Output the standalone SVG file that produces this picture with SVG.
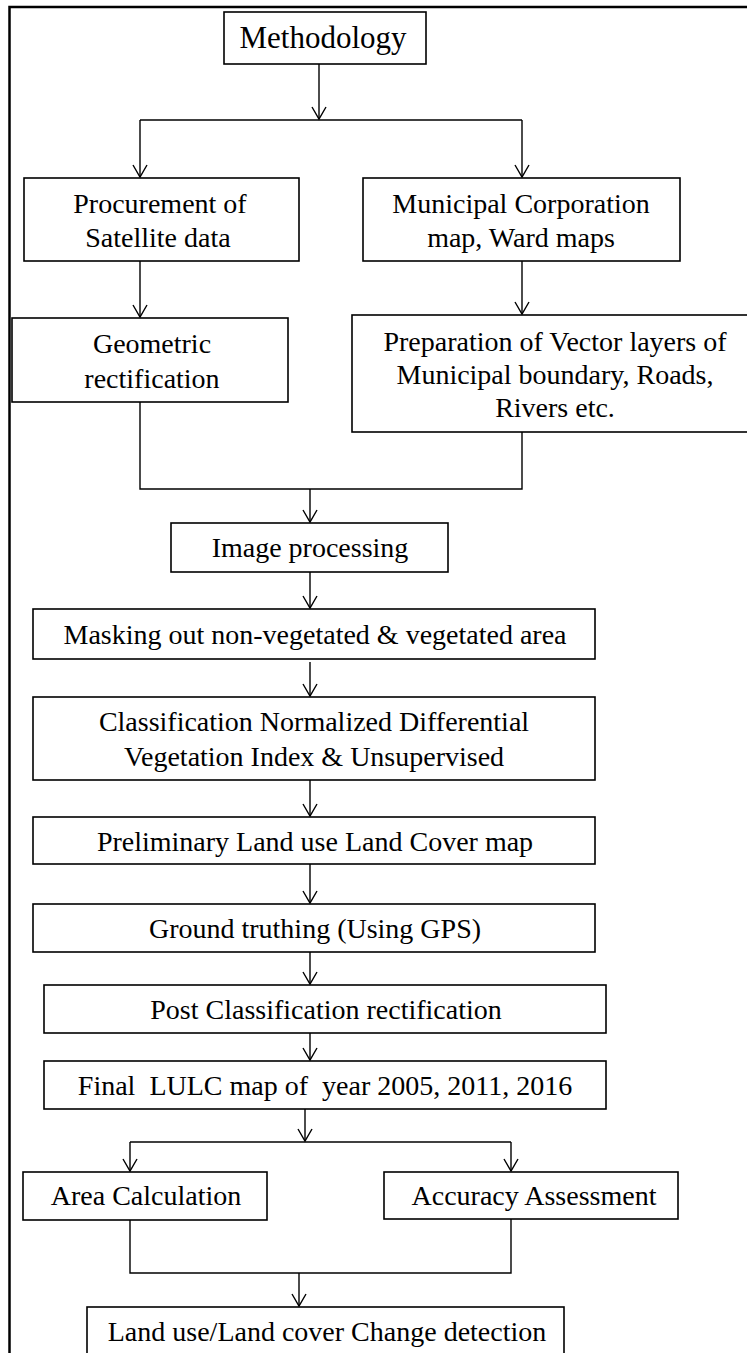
<svg xmlns="http://www.w3.org/2000/svg" width="747" height="1353" viewBox="0 0 747 1353">
<style>
.box{fill:#fff;stroke:#000;stroke-width:1.6}
.t{font-family:"Liberation Serif","Times New Roman",serif;font-size:28px;fill:#000;text-anchor:middle}
.c{fill:none;stroke:#000;stroke-width:1.4}
.a{marker-end:url(#ah)}
</style>
<defs>
<marker id="ah" markerUnits="userSpaceOnUse" markerWidth="16" markerHeight="16" viewBox="0 0 16 16" refX="14" refY="8" orient="auto">
<path d="M2,1 L14,8 L2,15" fill="none" stroke="#000" stroke-width="1.4"/>
</marker>
</defs>
<rect x="0" y="0" width="747" height="1353" fill="#fff"/>
<g id="frame">
<path d="M9.5,1353 L9.5,7 L747,7" fill="none" stroke="#000" stroke-width="2.5"/>
</g>
<g id="connectors">
<path class="c a" d="M319,64 L319,119"/>
<path class="c" d="M140,120 L522,120"/>
<path class="c a" d="M140,120 L140,177"/>
<path class="c a" d="M522,120 L522,177"/>
<path class="c a" d="M140,261 L140,317"/>
<path class="c a" d="M522,261 L522,314"/>
<path class="c" d="M140,402 L140,489 L522,489 L522,432"/>
<path class="c a" d="M310,489 L310,522"/>
<path class="c a" d="M310,572 L310,608"/>
<path class="c a" d="M310,662 L310,696"/>
<path class="c a" d="M310,780 L310,816"/>
<path class="c a" d="M310,864 L310,903"/>
<path class="c a" d="M310,952 L310,984"/>
<path class="c a" d="M310,1033 L310,1060"/>
<path class="c a" d="M305,1109 L305,1141"/>
<path class="c" d="M130,1142 L511,1142"/>
<path class="c a" d="M130,1142 L130,1171"/>
<path class="c a" d="M511,1142 L511,1171"/>
<path class="c" d="M130,1220 L130,1273 L511,1273 L511,1219"/>
<path class="c a" d="M299,1273 L299,1306"/>
</g>
<g id="n-methodology">
<rect class="box" x="224" y="12" width="202" height="52"/>
<text class="t" x="323" y="48" style="font-size:31px">Methodology</text>
</g>
<g id="n-procurement">
<rect class="box" x="24" y="178" width="275" height="83"/>
<text class="t" x="160" y="213">Procurement of</text>
<text class="t" x="158" y="247">Satellite data</text>
</g>
<g id="n-municipal">
<rect class="box" x="363" y="178" width="317" height="83"/>
<text class="t" x="521" y="213">Municipal Corporation</text>
<text class="t" x="521" y="247">map, Ward maps</text>
</g>
<g id="n-geometric">
<rect class="box" x="12" y="318" width="276" height="84"/>
<text class="t" x="152" y="353">Geometric</text>
<text class="t" x="152" y="388">rectification</text>
</g>
<g id="n-preparation">
<rect class="box" x="352" y="315" width="400" height="117"/>
<text class="t" x="555" y="351">Preparation of Vector layers of</text>
<text class="t" x="555" y="384">Municipal boundary, Roads,</text>
<text class="t" x="555" y="417">Rivers etc.</text>
</g>
<g id="n-image">
<rect class="box" x="171" y="523" width="277" height="49"/>
<text class="t" x="310" y="557">Image processing</text>
</g>
<g id="n-masking">
<rect class="box" x="33" y="609" width="562" height="50"/>
<text class="t" x="315" y="644">Masking out non-vegetated &amp; vegetated area</text>
</g>
<g id="n-classification">
<rect class="box" x="33" y="697" width="562" height="83"/>
<text class="t" x="314" y="731">Classification Normalized Differential</text>
<text class="t" x="314" y="766">Vegetation Index &amp; Unsupervised</text>
</g>
<g id="n-preliminary">
<rect class="box" x="33" y="817" width="562" height="47"/>
<text class="t" x="315" y="851">Preliminary Land use Land Cover map</text>
</g>
<g id="n-ground">
<rect class="box" x="33" y="904" width="562" height="48"/>
<text class="t" x="315" y="938">Ground truthing (Using GPS)</text>
</g>
<g id="n-post">
<rect class="box" x="44" y="985" width="562" height="48"/>
<text class="t" x="326" y="1019">Post Classification rectification</text>
</g>
<g id="n-final">
<rect class="box" x="44" y="1061" width="562" height="48"/>
<text class="t" x="325" y="1095" style="white-space:pre">Final  LULC map of  year 2005, 2011, 2016</text>
</g>
<g id="n-area">
<rect class="box" x="23" y="1172" width="244" height="48"/>
<text class="t" x="146" y="1205">Area Calculation</text>
</g>
<g id="n-accuracy">
<rect class="box" x="384" y="1172" width="294" height="47"/>
<text class="t" x="534" y="1205">Accuracy Assessment</text>
</g>
<g id="n-change">
<rect class="box" x="87" y="1307" width="477" height="60"/>
<text class="t" x="327" y="1341">Land use/Land cover Change detection</text>
</g>
</svg>
